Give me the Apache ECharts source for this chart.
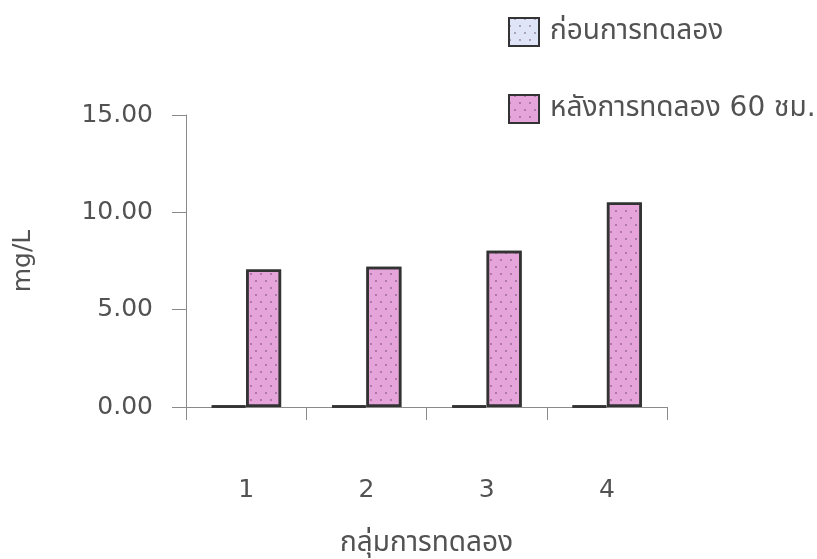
<!DOCTYPE html>
<html>
<head>
<meta charset="utf-8">
<script src="https://cdn.jsdelivr.net/npm/echarts@6/dist/echarts.min.js"></script>
<style>
  html, body { margin: 0; padding: 0; background: #ffffff; }
  #chart { width: 817px; height: 559px; }
</style>
</head>
<body>
<div id="chart"></div>
<script>
// Experiment groups and measured concentrations (mg/L)
const groups = ['1', '2', '3', '4'];
const seriesNames = ['ก่อนการทดลอง', 'หลังการทดลอง 60 ชม.'];
const beforeValues = [0.06, 0.06, 0.06, 0.06];
const afterValues = [7.06, 7.2, 8.03, 10.5];
const yTicks = [0, 5, 10, 15];

const FONT = '"DejaVu Sans", "Noto Sans Thai", "Sarabun", "Waree", sans-serif';
const TEXT = '#525252';

// Fine stippled dot pattern laid over the bar fills
const stipple = {
  symbol: 'circle',
  symbolSize: 0.9,
  color: 'rgba(70, 40, 70, 0.5)',
  dashArrayX: [[2, 8], [0, 5, 2, 3]],
  dashArrayY: [2, 5]
};

const chart = echarts.init(document.getElementById('chart'), null, { renderer: 'canvas' });

chart.setOption({
  backgroundColor: '#ffffff',
  animation: false,
  textStyle: { fontFamily: FONT },
  legend: {
    orient: 'vertical',
    left: 503,
    top: 12,
    padding: 5,
    itemWidth: 30,
    itemHeight: 28,
    itemGap: 47,
    icon: 'rect',
    textStyle: { fontSize: 28, lineHeight: 28, color: TEXT, fontFamily: FONT, padding: [0, 0, 0, 6] },
    data: seriesNames
  },
  grid: {
    left: 186, width: 481, top: 115, height: 292,
    containLabel: false,
    outerBoundsMode: 'none'
  },
  xAxis: {
    type: 'category',
    data: groups,
    name: 'กลุ่มการทดลอง',
    nameLocation: 'middle',
    nameGap: 123,
    nameTextStyle: { fontSize: 28, color: TEXT },
    axisLine: { lineStyle: { color: '#8a8a8a', width: 1 } },
    axisTick: { show: true, length: 13, lineStyle: { color: '#8a8a8a' } },
    axisLabel: { margin: 71, fontSize: 25, color: TEXT }
  },
  yAxis: {
    type: 'value',
    min: yTicks[0],
    max: yTicks[yTicks.length - 1],
    interval: 5,
    name: 'mg/L',
    nameLocation: 'middle',
    nameGap: 150,
    nameRotate: 90,
    nameTextStyle: { fontSize: 25, color: TEXT },
    splitLine: { show: false },
    axisLine: { show: true, lineStyle: { color: '#8a8a8a', width: 1 } },
    axisTick: { show: true, length: 14, lineStyle: { color: '#8a8a8a' } },
    axisLabel: { margin: 33, fontSize: 25, color: TEXT, formatter: v => v.toFixed(2) }
  },
  series: [
    {
      name: seriesNames[0],
      type: 'bar',
      data: beforeValues,
      barWidth: 35,
      barGap: '0%',
      itemStyle: { color: '#dfe4f7', borderColor: '#333333', borderWidth: 2.5, decal: stipple }
    },
    {
      name: seriesNames[1],
      type: 'bar',
      data: afterValues,
      barWidth: 35,
      itemStyle: { color: '#e6a5da', borderColor: '#333333', borderWidth: 2.5, decal: stipple }
    }
  ]
});
</script>
</body>
</html>
